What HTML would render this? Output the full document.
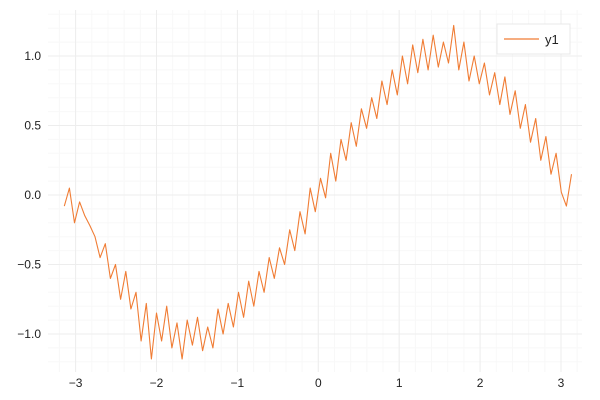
<!DOCTYPE html>
<html><head><meta charset="utf-8"><style>
html,body{margin:0;padding:0;background:#fff}
svg{display:block;font-family:"Liberation Sans",sans-serif}
</style></head><body>
<svg id="chart" width="600" height="400">
<g id="grid"></g>
<g id="xt"></g>
<g id="yt"></g>
<path id="line" fill="none" stroke="#f07c34" stroke-width="1.1" stroke-linejoin="round"/>
<g>
<rect x="497" y="24" width="73" height="30" fill="#fff" stroke="#e8e8e8" stroke-width="1"/>
<line x1="504" y1="39" x2="539" y2="39" stroke="#f07c34" stroke-width="1.2"/>
<text x="545" y="44" font-size="13" fill="#222">y1</text>
</g>
</svg>
<script>
const xStart = -3.14, xEnd = 3.13;
const yValues = [-0.08,0.05,-0.20,-0.05,-0.15,-0.22,-0.30,-0.45,-0.35,-0.60,-0.50,-0.75,-0.55,-0.82,-0.70,-1.05,-0.78,-1.18,-0.85,-1.05,-0.80,-1.10,-0.92,-1.18,-0.90,-1.08,-0.88,-1.12,-0.95,-1.10,-0.82,-1.00,-0.78,-0.95,-0.70,-0.88,-0.62,-0.80,-0.55,-0.70,-0.45,-0.60,-0.38,-0.50,-0.25,-0.40,-0.12,-0.28,0.05,-0.12,0.12,-0.02,0.30,0.10,0.40,0.25,0.52,0.35,0.62,0.48,0.70,0.55,0.82,0.65,0.90,0.72,1.00,0.80,1.08,0.88,1.12,0.90,1.15,0.92,1.10,0.95,1.22,0.90,1.10,0.82,1.00,0.80,0.95,0.72,0.88,0.65,0.85,0.58,0.75,0.48,0.65,0.38,0.55,0.25,0.42,0.15,0.30,0.02,-0.08,0.15];
const xTicks = [-3,-2,-1,0,1,2,3];
const yTicks = [-1.0,-0.5,0.0,0.5,1.0];
const L=48,R=582,T=10,B=372;
const sx = v => 318.3 + v*80.9;
const sy = v => 195 - v*139;
const NS="http://www.w3.org/2000/svg";
const grid=document.getElementById('grid');
function ln(x1,y1,x2,y2,c,name){const l=document.createElementNS(NS,'line');
l.setAttribute('x1',x1);l.setAttribute('y1',y1);l.setAttribute('x2',x2);l.setAttribute('y2',y2);
l.setAttribute('stroke',c);l.setAttribute('stroke-width',1);


grid.appendChild(l);}
for(let v=-3.2;v<=3.21;v+=0.2){const x=sx(v);if(x>=L&&x<=R)ln(x,T,x,B,'#f8f8f8','minor-grid-x');}
for(let v=-1.3;v<=1.31;v+=0.1){const y=sy(v);if(y>=T&&y<=B)ln(L,y,R,y,'#f8f8f8','minor-grid-y');}
xTicks.forEach(v=>ln(sx(v),T,sx(v),B,'#ededed','major-grid-x'));
yTicks.forEach(v=>ln(L,sy(v),R,sy(v),'#ededed','major-grid-y'));
const fmt=v=>(v<0?'\u2212':'')+Math.abs(v);
const xt=document.getElementById('xt');
xTicks.forEach(v=>{const t=document.createElementNS(NS,'text');t.setAttribute('x',sx(v));t.setAttribute('y',387);
t.setAttribute('text-anchor','middle');t.setAttribute('font-size','12');t.setAttribute('fill','#222');t.textContent=fmt(v);


xt.appendChild(t);});
const yt=document.getElementById('yt');
yTicks.forEach(v=>{const t=document.createElementNS(NS,'text');t.setAttribute('x',41);t.setAttribute('y',sy(v)+4);
t.setAttribute('text-anchor','end');t.setAttribute('font-size','12');t.setAttribute('fill','#222');
t.textContent=(v<0?'\u2212':'')+Math.abs(v).toFixed(1);


yt.appendChild(t);});
const n=yValues.length;
let d='';
yValues.forEach((y,i)=>{const x=xStart+(xEnd-xStart)*i/(n-1);d+=(i?'L':'M')+sx(x).toFixed(1)+','+sy(y).toFixed(1);});
document.getElementById('line').setAttribute('d',d);
</script>
</body></html>
